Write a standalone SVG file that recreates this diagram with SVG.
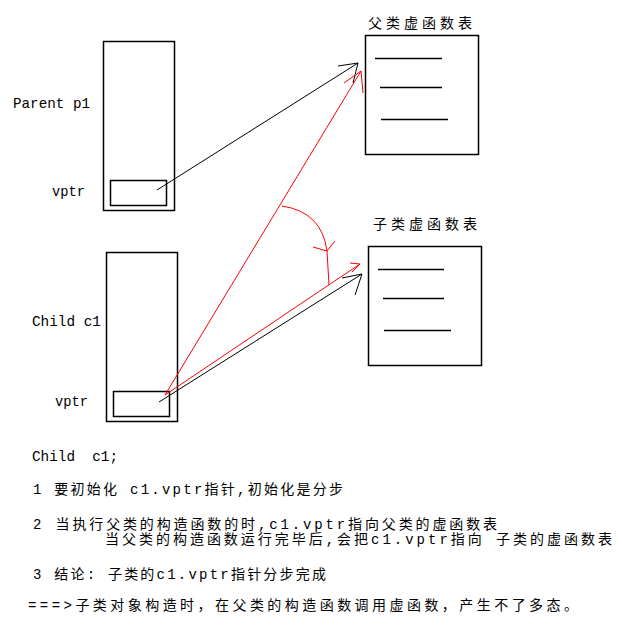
<svg xmlns="http://www.w3.org/2000/svg" width="622" height="628" viewBox="0 0 622 628">
<style>
.box{fill:none;stroke:#000;stroke-width:1.5}
.row{stroke:#000;stroke-width:1.5}
.lbl{font-family:"Liberation Mono","DejaVu Sans Mono",monospace;font-size:15px;fill:#000;white-space:pre}
.cjk{font-family:"Liberation Mono","Noto Sans CJK SC",monospace;font-size:14px;fill:#000;white-space:pre}
.blk{fill:none;stroke:#000;stroke-width:1}
.red{fill:none;stroke:#f00;stroke-width:1}
</style>
<rect x="0" y="0" width="622" height="628" fill="#fff"/>
<g id="parent-p1">
<rect class="box" x="103.5" y="41.5" width="71" height="169"/>
<rect class="box" x="110.5" y="180.5" width="56" height="25"/>
<text class="lbl" x="13" y="108" textLength="77" lengthAdjust="spacingAndGlyphs">Parent p1</text>
<text class="lbl" x="52" y="196" textLength="33" lengthAdjust="spacingAndGlyphs">vptr</text>
</g>
<g id="parent-vtable">
<text class="cjk" x="368" y="27.5" textLength="104" lengthAdjust="spacing">父类虚函数表</text>
<rect class="box" x="365.5" y="35.5" width="113" height="119"/>
<line class="row" x1="375" y1="58.5" x2="442" y2="58.5"/>
<line class="row" x1="380" y1="87.5" x2="442" y2="87.5"/>
<line class="row" x1="381" y1="119.5" x2="448" y2="119.5"/>
</g>
<g id="child-c1">
<rect class="box" x="106.5" y="252.5" width="71" height="169"/>
<rect class="box" x="113.5" y="391.5" width="56" height="25"/>
<text class="lbl" x="32" y="326" textLength="69" lengthAdjust="spacingAndGlyphs">Child c1</text>
<text class="lbl" x="55" y="406" textLength="33" lengthAdjust="spacingAndGlyphs">vptr</text>
</g>
<g id="child-vtable">
<text class="cjk" x="373" y="228.5" textLength="104" lengthAdjust="spacing">子类虚函数表</text>
<rect class="box" x="368.5" y="246.5" width="113" height="119"/>
<line class="row" x1="378" y1="269.5" x2="444" y2="269.5"/>
<line class="row" x1="383" y1="298.5" x2="444" y2="298.5"/>
<line class="row" x1="384" y1="330.5" x2="451" y2="330.5"/>
</g>
<g id="connectors">
<line class="blk" x1="157" y1="190" x2="358" y2="63"/>
<polyline class="blk" points="338,66 358,63 353,83"/>
<line class="red" x1="165" y1="395" x2="361" y2="71"/>
<polyline class="red" points="344,83 361,71 363,93"/>
<line class="red" x1="165" y1="395" x2="360" y2="264"/>
<polyline class="red" points="350,263 360,264 352,272"/>
<line class="blk" x1="159" y1="402" x2="362" y2="274"/>
<polyline class="blk" points="342,278 362,274 355,295"/>
<path class="red" d="M282,206 Q322,212 327,251"/>
<polyline class="red" points="313,247 327,251 335,241"/>
<line class="red" x1="327" y1="251" x2="329" y2="285"/>
</g>
<g id="notes">
<text class="lbl" x="32" y="461" textLength="86" lengthAdjust="spacingAndGlyphs">Child  c1;</text>
<text class="cjk" x="33" y="494" textLength="310" lengthAdjust="spacing">1 要初始化 c1.vptr指针,初始化是分步</text>
<text class="cjk" x="33" y="529" textLength="464" lengthAdjust="spacing">2 当执行父类的构造函数的时,c1.vptr指向父类的虚函数表</text>
<text class="cjk" x="105" y="544" textLength="507" lengthAdjust="spacing">当父类的构造函数运行完毕后,会把c1.vptr指向 子类的虚函数表</text>
<text class="cjk" x="33" y="579" textLength="293" lengthAdjust="spacing">3 结论: 子类的c1.vptr指针分步完成</text>
<text class="cjk" x="28" y="610" textLength="550" lengthAdjust="spacing">===&gt;子类对象构造时，在父类的构造函数调用虚函数，产生不了多态。</text>
</g>
</svg>
